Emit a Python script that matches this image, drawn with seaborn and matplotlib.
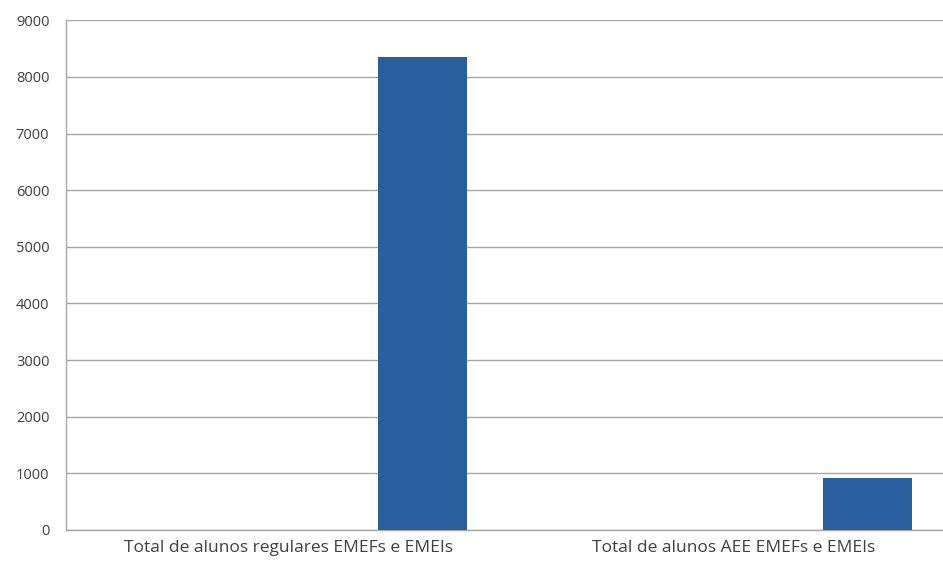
import pandas as pd
import seaborn as sns
import matplotlib.pyplot as plt

categories = ['Total de alunos regulares EMEFs e EMEIs', 'Total de alunos AEE EMEFs e EMEIs']
series_names = ['s1', 's2', 's3', 'Alunos']
values = [8350, 915]

df = pd.DataFrame({'categoria': categories, 'serie': 'Alunos', 'total': values})

sns.set_style('white')
plt.rcParams['font.family'] = ['Open Sans', 'DejaVu Sans']

fig = plt.figure(figsize=(9.43, 5.62), dpi=100)
# o eixo passa um pouco da borda direita, como no original
ax = fig.add_axes([0.07, 0.057, 0.944, 0.907])

sns.barplot(data=df, x='categoria', y='total', hue='serie', hue_order=series_names,
            palette=['#2a5f9e'] * 4, saturation=1, width=0.8, dodge=True,
            linewidth=0, legend=False, ax=ax, zorder=3)

ax.set_xlim(-0.5, 1.5)
ax.set_ylim(0, 9000)
ax.set_yticks(range(0, 9001, 1000))
ax.yaxis.grid(True, color='#a6a6a6', linewidth=1)
ax.set_axisbelow(True)
ax.set_xlabel('')
ax.set_ylabel('')

for s in ['top', 'right']:
    ax.spines[s].set_visible(False)
for s in ['left', 'bottom']:
    ax.spines[s].set_color('#a6a6a6')
    ax.spines[s].set_linewidth(1)

ax.tick_params(axis='both', length=0, colors='#404040')
ax.tick_params(axis='y', pad=12, labelsize=10.5)
ax.tick_params(axis='x', pad=7, labelsize=12.5)

fig.savefig('out.png', dpi=100)
